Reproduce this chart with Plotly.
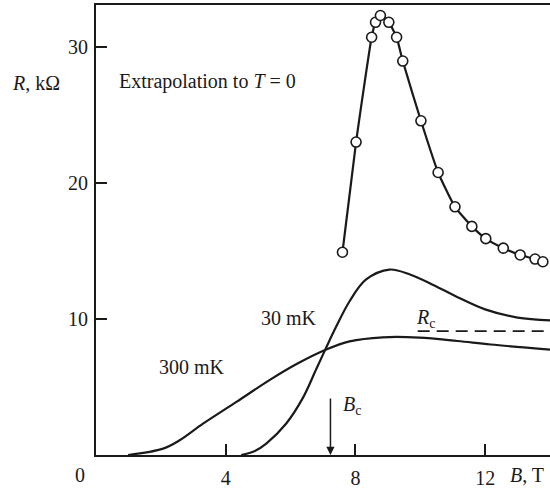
import plotly.graph_objects as go

# Extrapolated T = 0 resistance (open circles)
b_ext = [7.6, 8.02, 8.5, 8.62, 8.77, 9.03, 9.27, 9.46, 10.02, 10.55, 11.07,
         11.59, 12.02, 12.56, 13.08, 13.54, 13.78]
r_ext = [14.9, 23.0, 30.7, 31.8, 32.3, 31.8, 30.7, 28.95, 24.56, 20.76, 18.24,
         16.8, 15.9, 15.2, 14.7, 14.4, 14.2]

# 30 mK isotherm
b_30 = [4.48, 4.9, 5.25, 5.86, 6.38, 6.79, 7.1, 7.4, 7.82, 8.33, 9.05,
        9.7, 10.4, 11.15, 12.0, 13.0, 14.0]
r_30 = [0.0, 0.3, 0.84, 2.3, 4.2, 6.3, 7.9, 9.4, 11.3, 12.9, 13.63,
        13.25, 12.5, 11.6, 10.7, 10.1, 9.9]

# 300 mK isotherm
b_300 = [0.99, 2.07, 2.58, 3.3, 4.33, 5.35, 6.2, 7.1, 7.82, 8.84, 9.97,
         11.15, 12.17, 14.0]
r_300 = [0.0, 0.47, 1.08, 2.3, 3.9, 5.5, 6.7, 7.75, 8.35, 8.65, 8.63,
         8.38, 8.12, 7.75]

# critical resistance level and critical field
rc_b = [9.92, 14.0]
rc_r = [9.1, 9.1]
b_c = 7.23

x_ticks = [4, 8, 12]
y_ticks = [10, 20, 30]

INK = "#1a1a1a"
FONT = dict(family="Liberation Serif, Times New Roman, serif", size=20, color=INK)

fig = go.Figure()

fig.add_trace(go.Scatter(
    x=b_30, y=r_30, mode="lines",
    line=dict(color=INK, width=2.2, shape="spline", smoothing=1.0),
    hoverinfo="skip"))
fig.add_trace(go.Scatter(
    x=b_300, y=r_300, mode="lines",
    line=dict(color=INK, width=2.2, shape="spline", smoothing=1.0),
    hoverinfo="skip"))
fig.add_trace(go.Scatter(
    x=rc_b, y=rc_r, mode="lines",
    line=dict(color=INK, width=1.6, dash="12px,7px"),
    hoverinfo="skip"))
fig.add_trace(go.Scatter(
    x=b_ext, y=r_ext, mode="lines+markers",
    line=dict(color=INK, width=2.2, shape="spline", smoothing=0.5),
    marker=dict(symbol="circle", size=10, color="white",
                line=dict(color=INK, width=1.6)),
    hoverinfo="skip"))

annotations = [
    dict(x=b_c, y=0, ax=b_c, ay=4.27, xref="x", yref="y", axref="x", ayref="y",
         showarrow=True, arrowhead=2, arrowsize=1.1, arrowwidth=1.5,
         arrowcolor=INK, text=""),
    dict(x=b_c + 0.33, y=3.65, xref="x", yref="y", xanchor="left",
         text="<i>B</i><sub>c</sub>", showarrow=False, font=FONT),
    dict(x=9.82, y=10.0, xref="x", yref="y", xanchor="left",
         text="<i>R</i><sub>c</sub>", showarrow=False, font=FONT),
    dict(x=5.94, y=10.05, xref="x", yref="y", xanchor="center",
         text="30 mK", showarrow=False, font=FONT),
    dict(x=2.97, y=6.47, xref="x", yref="y", xanchor="center",
         text="300 mK", showarrow=False, font=FONT),
    dict(x=0.64, y=27.43, xref="x", yref="y", xanchor="left",
         text="Extrapolation to <i>T</i> = 0", showarrow=False, font=FONT),
    # labels sitting outside the axis ranges use paper coordinates
    dict(x=-0.0352, y=-0.074, xref="paper", yref="paper", xanchor="center",
         yanchor="bottom", text="0", showarrow=False, font=FONT),
    dict(x=0.9075, y=-0.074, xref="paper", yref="paper", xanchor="left",
         yanchor="bottom", text="<i>B</i>, T", showarrow=False, font=FONT),
    dict(x=-0.0749, y=0.8266, xref="paper", yref="paper", xanchor="right",
         yanchor="middle", text="<i>R</i>, kΩ", showarrow=False, font=FONT),
]

fig.update_layout(
    width=550, height=488,
    margin=dict(l=96, r=0, t=5, b=33.3, pad=0, autoexpand=False),
    paper_bgcolor="white", plot_bgcolor="white",
    showlegend=False,
    font=FONT,
    annotations=annotations,
    xaxis=dict(
        range=[0, 14], tickvals=x_ticks, ticktext=[str(v) for v in x_ticks],
        ticks="inside", ticklen=11, tickwidth=1.5, tickcolor=INK,
        showline=True, linecolor=INK, linewidth=2, mirror=True,
        showgrid=False, zeroline=False, tickfont=FONT, ticklabelstandoff=4,
        automargin=False, fixedrange=True),
    yaxis=dict(
        range=[0, 33.07], tickvals=y_ticks, ticktext=[str(v) for v in y_ticks],
        ticks="inside", ticklen=11, tickwidth=1.5, tickcolor=INK,
        showline=True, linecolor=INK, linewidth=2,
        showgrid=False, zeroline=False, tickfont=FONT, ticklabelstandoff=2,
        automargin=False, fixedrange=True),
)

fig.write_html("out.html")
